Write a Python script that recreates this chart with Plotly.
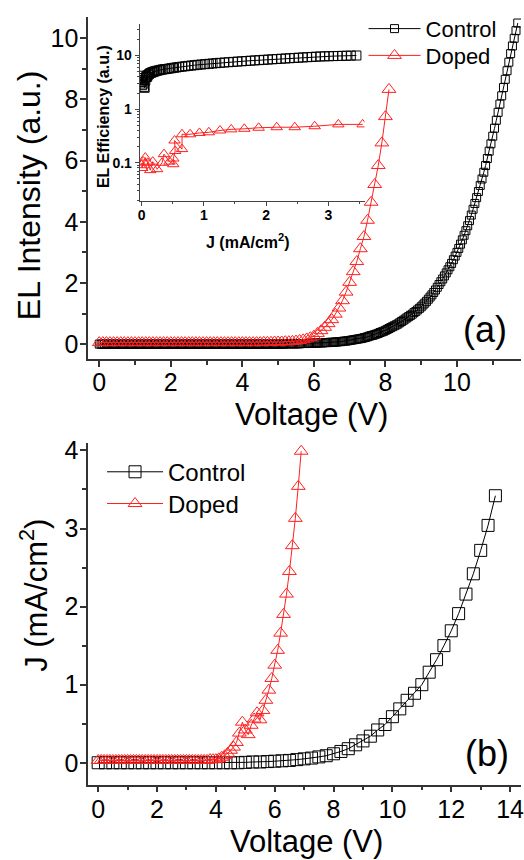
import plotly.graph_objects as go

W, H = 524, 860
FONT = "Liberation Sans, Arial, sans-serif"
BLACK = "#000000"
RED = "#ff2020"

# ---------------- DATA ----------------
# (a) EL intensity vs voltage, Control (0.05 V steps)
V_CTRL_A = [
    0.00, 0.05, 0.10, 0.15, 0.20, 0.25, 0.30, 0.35, 0.40, 0.45, 0.50, 0.55, 0.60, 0.65, 0.70, 0.75, 0.80, 0.85, 0.90, 0.95,
    1.00, 1.05, 1.10, 1.15, 1.20, 1.25, 1.30, 1.35, 1.40, 1.45, 1.50, 1.55, 1.60, 1.65, 1.70, 1.75, 1.80, 1.85, 1.90, 1.95,
    2.00, 2.05, 2.10, 2.15, 2.20, 2.25, 2.30, 2.35, 2.40, 2.45, 2.50, 2.55, 2.60, 2.65, 2.70, 2.75, 2.80, 2.85, 2.90, 2.95,
    3.00, 3.05, 3.10, 3.15, 3.20, 3.25, 3.30, 3.35, 3.40, 3.45, 3.50, 3.55, 3.60, 3.65, 3.70, 3.75, 3.80, 3.85, 3.90, 3.95,
    4.00, 4.05, 4.10, 4.15, 4.20, 4.25, 4.30, 4.35, 4.40, 4.45, 4.50, 4.55, 4.60, 4.65, 4.70, 4.75, 4.80, 4.85, 4.90, 4.95,
    5.00, 5.05, 5.10, 5.15, 5.20, 5.25, 5.30, 5.35, 5.40, 5.45, 5.50, 5.55, 5.60, 5.65, 5.70, 5.75, 5.80, 5.85, 5.90, 5.95,
    6.00, 6.05, 6.10, 6.15, 6.20, 6.25, 6.30, 6.35, 6.40, 6.45, 6.50, 6.55, 6.60, 6.65, 6.70, 6.75, 6.80, 6.85, 6.90, 6.95,
    7.00, 7.05, 7.10, 7.15, 7.20, 7.25, 7.30, 7.35, 7.40, 7.45, 7.50, 7.55, 7.60, 7.65, 7.70, 7.75, 7.80, 7.85, 7.90, 7.95,
    8.00, 8.05, 8.10, 8.15, 8.20, 8.25, 8.30, 8.35, 8.40, 8.45, 8.50, 8.55, 8.60, 8.65, 8.70, 8.75, 8.80, 8.85, 8.90, 8.95,
    9.00, 9.05, 9.10, 9.15, 9.20, 9.25, 9.30, 9.35, 9.40, 9.45, 9.50, 9.55, 9.60, 9.65, 9.70, 9.75, 9.80, 9.85, 9.90, 9.95,
    10.00, 10.05, 10.10, 10.15, 10.20, 10.25, 10.30, 10.35, 10.40, 10.45, 10.50, 10.55, 10.60, 10.65, 10.70, 10.75, 10.80, 10.85, 10.90, 10.95,
    11.00, 11.05, 11.10, 11.15, 11.20, 11.25, 11.30, 11.35, 11.40, 11.45, 11.50, 11.55, 11.60, 11.65, 11.70,
]
EL_CTRL = [
    0, 0, 0, 0, 0, 0, 0, 0, 0, 0, 0, 0, 0, 0, 0, 0, 0, 0, 0, 0,
    0, 0, 0, 0, 0, 0, 0, 0, 0, 0, 0, 0, 0, 0, 0, 0, 0, 0, 0, 0,
    0, 0, 0, 0, 0, 0, 0, 0, 0, 0, 0, 0, 0, 0, 0, 0, 0, 0, 0, 0,
    0, 0, 0, 0, 0, 0, 0, 0, 0, 0, 0, 0, 0, 0, 0, 0, 0, 0, 0, 0,
    0, 0, 0, 0, 0, 0, 0, 0, 0, 0, 0, 0, 0, 0, 0, 0, 0, 0, 0, 0,
    0.00, 0.00, 0.00, 0.00, 0.01, 0.01, 0.01, 0.01, 0.01, 0.01, 0.01, 0.01, 0.01, 0.02, 0.02, 0.02, 0.02, 0.02, 0.03, 0.03,
    0.03, 0.03, 0.04, 0.04, 0.04, 0.04, 0.05, 0.05, 0.05, 0.06, 0.06, 0.06, 0.07, 0.07, 0.08, 0.08, 0.09, 0.10, 0.10, 0.11,
    0.12, 0.13, 0.14, 0.15, 0.16, 0.17, 0.18, 0.19, 0.21, 0.22, 0.24, 0.26, 0.28, 0.29, 0.31, 0.33, 0.35, 0.38, 0.40, 0.42,
    0.45, 0.48, 0.51, 0.54, 0.57, 0.60, 0.63, 0.66, 0.70, 0.74, 0.78, 0.82, 0.86, 0.90, 0.94, 0.98, 1.03, 1.07, 1.12, 1.17,
    1.22, 1.28, 1.34, 1.40, 1.47, 1.54, 1.61, 1.69, 1.77, 1.86, 1.95, 2.04, 2.13, 2.23, 2.33, 2.43, 2.53, 2.64, 2.76, 2.88,
    3.00, 3.13, 3.27, 3.41, 3.56, 3.71, 3.87, 4.04, 4.22, 4.41, 4.60, 4.79, 4.99, 5.19, 5.40, 5.62, 5.84, 6.07, 6.31, 6.55,
    6.80, 7.06, 7.32, 7.58, 7.85, 8.12, 8.39, 8.66, 8.94, 9.22, 9.50, 9.75, 10.00, 10.25, 10.50,
]

# (a) EL intensity vs voltage, Doped (0.1 V steps)
V_DOPED_A = [
    0.0, 0.1, 0.2, 0.3, 0.4, 0.5, 0.6, 0.7, 0.8, 0.9, 1.0, 1.1, 1.2, 1.3, 1.4, 1.5, 1.6, 1.7, 1.8, 1.9,
    2.0, 2.1, 2.2, 2.3, 2.4, 2.5, 2.6, 2.7, 2.8, 2.9, 3.0, 3.1, 3.2, 3.3, 3.4, 3.5, 3.6, 3.7, 3.8, 3.9,
    4.0, 4.1, 4.2, 4.3, 4.4, 4.5, 4.6, 4.7, 4.8, 4.9, 5.0, 5.1, 5.2, 5.3, 5.4, 5.5, 5.6, 5.7, 5.8, 5.9,
    6.0, 6.1, 6.2, 6.3, 6.4, 6.5, 6.6, 6.7, 6.8, 6.9, 7.0, 7.1, 7.2, 7.3, 7.4, 7.5, 7.6, 7.7, 7.8, 7.9,
    8.0, 8.1,
]
EL_DOPED = [
    0.05, 0.05, 0.05, 0.05, 0.05, 0.05, 0.05, 0.05, 0.05, 0.05, 0.05, 0.05, 0.05, 0.05, 0.05, 0.05, 0.05, 0.05, 0.05, 0.05,
    0.05, 0.05, 0.05, 0.05, 0.05, 0.05, 0.05, 0.05, 0.05, 0.05, 0.05, 0.05, 0.05, 0.05, 0.05, 0.05, 0.05, 0.05, 0.05, 0.05,
    0.05, 0.05, 0.05, 0.05, 0.05, 0.05, 0.06, 0.06, 0.06, 0.07, 0.07, 0.07, 0.08, 0.08, 0.09, 0.10, 0.12, 0.14, 0.17, 0.21,
    0.26, 0.35, 0.44, 0.55, 0.67, 0.80, 0.98, 1.18, 1.42, 1.70, 2.02, 2.37, 2.70, 3.12, 3.52, 4.05, 4.64, 5.22, 5.84, 6.58,
    7.44, 8.33,
]

# (a, inset) EL efficiency vs current density
J_CTRL_IN = [
    0.00, 0.01, 0.01, 0.02, 0.02, 0.03, 0.04, 0.05, 0.06, 0.07, 0.08, 0.09, 0.10, 0.12, 0.14, 0.16, 0.18, 0.20, 0.22, 0.25,
    0.28, 0.31, 0.34, 0.37, 0.40, 0.44, 0.48, 0.52, 0.56, 0.60, 0.65, 0.70, 0.75, 0.80, 0.85, 0.90, 0.96, 1.02, 1.08, 1.14,
    1.20, 1.26, 1.33, 1.40, 1.47, 1.54, 1.61, 1.68, 1.75, 1.82, 1.89, 1.96, 2.03, 2.10, 2.17, 2.24, 2.31, 2.38, 2.45, 2.52,
    2.59, 2.66, 2.73, 2.80, 2.87, 2.94, 3.01, 3.08, 3.15, 3.22, 3.29, 3.36, 3.45,
]
EFF_CTRL = [
    3.2, 3.8, 2.8, 3.5, 4.2, 3.0, 2.6, 2.5, 3.4, 3.9, 4.1, 4.0, 4.3, 4.5, 4.7, 4.8, 4.9, 5.0, 5.1, 5.2,
    5.3, 5.4, 5.5, 5.55, 5.6, 5.7, 5.8, 5.9, 6.0, 6.1, 6.2, 6.3, 6.4, 6.5, 6.6, 6.7, 6.8, 6.9, 7.0, 7.1,
    7.2, 7.3, 7.4, 7.5, 7.6, 7.7, 7.8, 7.9, 8.0, 8.1, 8.2, 8.3, 8.4, 8.5, 8.6, 8.7, 8.8, 8.9, 9.0, 9.1,
    9.2, 9.3, 9.4, 9.5, 9.6, 9.65, 9.7, 9.75, 9.8, 9.85, 9.9, 9.95, 10.0,
]
J_DOPED_IN = [0.00, 0.01, 0.03, 0.06, 0.10, 0.14, 0.18, 0.25, 0.33, 0.36, 0.45, 0.51, 0.51, 0.54, 0.53,
              0.65, 0.65, 0.78, 0.93, 1.08, 1.26, 1.44, 1.65, 1.88, 2.17, 2.46, 2.78, 3.16, 3.55]
EFF_DOPED = [0.09, 0.08, 0.105, 0.125, 0.10, 0.073, 0.105, 0.076, 0.10, 0.145, 0.105, 0.094, 0.12, 0.166, 0.26,
             0.18, 0.34, 0.34, 0.36, 0.37, 0.40, 0.42, 0.43, 0.45, 0.46, 0.46, 0.48, 0.52, 0.52]

# (b) current density vs voltage
V_CTRL_B = [0.00, 0.25, 0.50, 0.75, 1.00, 1.25, 1.50, 1.75, 2.00, 2.25, 2.50, 2.75, 3.00, 3.25, 3.50, 3.75, 4.00, 4.25, 4.50,
            4.75, 5.00, 5.25, 5.50, 5.75, 6.00, 6.25, 6.50, 6.75, 7.00, 7.25, 7.50, 7.75, 8.00, 8.25, 8.50, 8.75, 9.00,
            9.25, 9.50, 9.75, 10.00, 10.25, 10.50, 10.75, 11.00, 11.25, 11.50, 11.75, 12.00, 12.25, 12.50, 12.75, 13.00,
            13.25, 13.50]
J_CTRL_B = [0.0, 0.0, 0.0, 0.0, 0.0, 0.0, 0.0, 0.0, 0.0, 0.0, 0.0, 0.0, 0.0, 0.0, 0.0, 0.0, 0.0, 0.0, 0.0,
            0.0, 0.005, 0.01, 0.01, 0.015, 0.02, 0.025, 0.03, 0.04, 0.05, 0.06, 0.075, 0.09, 0.115, 0.145, 0.18, 0.23, 0.28,
            0.34, 0.42, 0.49, 0.59, 0.69, 0.80, 0.89, 1.00, 1.16, 1.32, 1.50, 1.69, 1.91, 2.16, 2.42, 2.72,
            3.04, 3.42]
V_DOPED_B = [0.0, 0.1, 0.2, 0.3, 0.4, 0.5, 0.6, 0.7, 0.8, 0.9, 1.0, 1.1, 1.2, 1.3, 1.4, 1.5, 1.6, 1.7, 1.8, 1.9,
             2.0, 2.1, 2.2, 2.3, 2.4, 2.5, 2.6, 2.7, 2.8, 2.9, 3.0, 3.1, 3.2, 3.3, 3.4, 3.5, 3.6, 3.7, 3.8, 3.9,
             4.0, 4.1, 4.2, 4.3, 4.4, 4.5, 4.6, 4.7, 4.8, 4.9, 5.0, 5.1, 5.2, 5.3, 5.4, 5.5, 5.6, 5.7, 5.8, 5.9,
             6.0, 6.1, 6.2, 6.3, 6.4, 6.5, 6.6, 6.7, 6.8, 6.9]
J_DOPED_B = [0.03, 0.03, 0.03, 0.03, 0.03, 0.03, 0.03, 0.03, 0.03, 0.03, 0.03, 0.03, 0.03, 0.03, 0.03, 0.03, 0.03, 0.03, 0.03, 0.03,
             0.03, 0.03, 0.03, 0.03, 0.03, 0.03, 0.03, 0.03, 0.03, 0.03, 0.03, 0.03, 0.03, 0.03, 0.03, 0.03, 0.03, 0.03, 0.04, 0.04,
             0.04, 0.05, 0.07, 0.09, 0.12, 0.16, 0.20, 0.26, 0.38, 0.52, 0.42, 0.36, 0.48, 0.56, 0.64, 0.55, 0.67, 0.80, 0.93, 1.08,
             1.25, 1.44, 1.66, 1.90, 2.16, 2.45, 2.78, 3.13, 3.54, 3.99]

SERIES_NAMES = ["Control", "Doped"]


# ---------------- helpers (pixel -> paper) ----------------
def fx(p):
    return p / W


def fy(p):
    return 1 - p / H


fig = go.Figure()

# ---- panel (a) ----
fig.add_trace(go.Scatter(
    x=V_CTRL_A, y=EL_CTRL, name=SERIES_NAMES[0], mode="lines+markers",
    line=dict(color=BLACK, width=1),
    marker=dict(symbol="square-open", size=8, color=BLACK, line=dict(width=1)),
    xaxis="x", yaxis="y", legend="legend"))
fig.add_trace(go.Scatter(
    x=V_DOPED_A, y=EL_DOPED, name=SERIES_NAMES[1], mode="lines+markers",
    line=dict(color=RED, width=1),
    marker=dict(symbol="triangle-up-open", size=12, color=RED, line=dict(width=1)),
    xaxis="x", yaxis="y", legend="legend3"))

# ---- inset ----
fig.add_trace(go.Scatter(
    x=J_CTRL_IN, y=EFF_CTRL, name=SERIES_NAMES[0], mode="lines+markers", showlegend=False,
    line=dict(color=BLACK, width=1),
    marker=dict(symbol="square-open", size=9, color=BLACK, line=dict(width=1)),
    xaxis="x5", yaxis="y5"))
fig.add_trace(go.Scatter(
    x=J_DOPED_IN, y=EFF_DOPED, name=SERIES_NAMES[1], mode="lines+markers", showlegend=False,
    line=dict(color=RED, width=1),
    marker=dict(symbol="triangle-up-open", size=10, color=RED, line=dict(width=1)),
    xaxis="x5", yaxis="y5"))

# ---- panel (b) ----
fig.add_trace(go.Scatter(
    x=V_CTRL_B, y=J_CTRL_B, name=SERIES_NAMES[0], mode="lines+markers",
    line=dict(color=BLACK, width=1),
    marker=dict(symbol="square-open", size=12, color=BLACK, line=dict(width=1)),
    xaxis="x2", yaxis="y2", legend="legend2"))
fig.add_trace(go.Scatter(
    x=V_DOPED_B, y=J_DOPED_B, name=SERIES_NAMES[1], mode="lines+markers",
    line=dict(color=RED, width=1),
    marker=dict(symbol="triangle-up-open", size=12, color=RED, line=dict(width=1)),
    xaxis="x2", yaxis="y2", legend="legend4"))

AX = dict(showline=True, linecolor="#333333", linewidth=1.5, showgrid=False, zeroline=False,
          ticks="outside", tickcolor="#333333", tickwidth=1.5, ticklen=6, ticklabeloverflow="allow",
          tickfont=dict(family=FONT, size=25, color=BLACK))
AX_IN = dict(showline=True, linecolor="#444444", linewidth=1, showgrid=False, zeroline=False,
             ticks="outside", tickcolor="#444444", tickwidth=1, ticklen=4,
             tickfont=dict(family=FONT, size=14, color=BLACK, weight="bold"))
MIRROR = dict(showline=True, linecolor="#333333", linewidth=1.5, showgrid=False, zeroline=False,
              ticks="inside", tickcolor="#333333", tickwidth=1.5, ticklen=5, showticklabels=False)
MINOR = dict(ticks="outside", tick0=0, ticklen=4, tickcolor="#333333", tickwidth=1.5)

XA_DOM = [fx(87), 1.0]
YA_DOM = [fy(355), fy(10)]
XB_DOM = [fx(87), 1.0]
YB_DOM = [fy(784), fy(440)]


def leg(xpx, ypx, size, itemwidth):
    return dict(x=fx(xpx), y=fy(ypx), xanchor="left", yanchor="middle", bgcolor="rgba(0,0,0,0)",
                font=dict(family=FONT, size=size, color=BLACK), itemwidth=itemwidth,
                tracegroupgap=0, borderwidth=0)


fig.update_layout(
    width=W, height=H, margin=dict(l=0, r=0, t=0, b=0),
    paper_bgcolor="white", plot_bgcolor="rgba(0,0,0,0)",
    font=dict(family=FONT, color=BLACK),
    xaxis=dict(AX, domain=XA_DOM, anchor="y", range=[-0.31, 11.79], tickmode="linear", tick0=0, dtick=2,
               ticklabelstandoff=-6, minor=dict(MINOR, dtick=1)),
    yaxis=dict(AX, domain=YA_DOM, anchor="x", range=[-0.49, 10.70], tickmode="linear", tick0=0, dtick=2,
               ticklabelstandoff=-3, minor=dict(MINOR, dtick=1)),
    xaxis3=dict(MIRROR, overlaying="x", side="top", anchor="y", range=[-0.31, 11.79],
                tickmode="linear", tick0=0, dtick=1),
    yaxis3=dict(MIRROR, overlaying="y", side="right", anchor="x", range=[-0.49, 10.70],
                tickmode="linear", tick0=0, dtick=2, showline=False),
    xaxis2=dict(AX, domain=XB_DOM, anchor="y2", range=[-0.34, 14.37], tickmode="linear", tick0=0, dtick=2,
                ticklabelstandoff=-4, minor=dict(MINOR, dtick=1)),
    yaxis2=dict(AX, domain=YB_DOM, anchor="x2", range=[-0.28, 4.09], tickmode="linear", tick0=0, dtick=1,
                ticklabelstandoff=-3, minor=dict(MINOR, dtick=0.5)),
    xaxis4=dict(MIRROR, overlaying="x2", side="top", anchor="y2", range=[-0.34, 14.37],
                tickmode="linear", tick0=0, dtick=1),
    yaxis4=dict(MIRROR, overlaying="y2", side="right", anchor="x2", range=[-0.28, 4.09],
                tickmode="linear", tick0=0, dtick=1, showline=False),
    xaxis5=dict(AX_IN, domain=[fx(139), fx(366)], anchor="y5", range=[-0.03, 3.58],
                tickmode="linear", tick0=0, dtick=1, ticklabelstandoff=-3,
                minor=dict(ticks="outside", dtick=0.5, tick0=0, ticklen=2, tickcolor="#444444")),
    yaxis5=dict(AX_IN, domain=[fy(196), fy(17)], anchor="x5", type="log", range=[-1.72, 1.59],
                tickmode="array", tickvals=[0.1, 1, 10], ticktext=["0.1", "1", "10"],
                minor=dict(ticks="outside", ticklen=2, tickcolor="#444444",
                           tickmode="array",
                           tickvals=[0.02, 0.03, 0.04, 0.05, 0.06, 0.07, 0.08, 0.09,
                                     0.2, 0.3, 0.4, 0.5, 0.6, 0.7, 0.8, 0.9,
                                     2, 3, 4, 5, 6, 7, 8, 9, 20, 30])),
    legend=leg(365, 22, 22, 52),
    legend3=leg(365, 49, 22, 52),
    legend2=leg(101, 469, 24, 56),
    legend4=leg(101, 501, 24, 56),
)

ANN = [
    dict(text="Voltage (V)", x=fx(312), y=fy(411), size=31, angle=0, bold=False),
    dict(text="EL Intensity (a.u.)", x=fx(28), y=fy(190), size=32, angle=-90, bold=False),
    dict(text="Voltage (V)", x=fx(307), y=fy(841), size=31, angle=0, bold=False),
    dict(text="J (mA/cm<sup>2</sup>)", x=fx(32), y=fy(593), size=31, angle=-90, bold=False),
    dict(text="(a)", x=fx(488), y=fy(325), size=36, angle=0, bold=False),
    dict(text="(b)", x=fx(490), y=fy(753), size=36, angle=0, bold=False),
    dict(text="J (mA/cm<sup>2</sup>)", x=fx(248), y=fy(236), size=16, angle=0, bold=True),
    dict(text="EL Efficiency (a.u.)", x=fx(102), y=fy(111), size=16, angle=-90, bold=True),
]
for a in ANN:
    fig.add_annotation(
        text=a["text"], x=a["x"], y=a["y"], xref="paper", yref="paper",
        xanchor="center", yanchor="middle", showarrow=False, textangle=a["angle"],
        font=dict(family=FONT, size=a["size"], color=BLACK, weight="bold" if a["bold"] else "normal"))

fig.write_html("out.html")
